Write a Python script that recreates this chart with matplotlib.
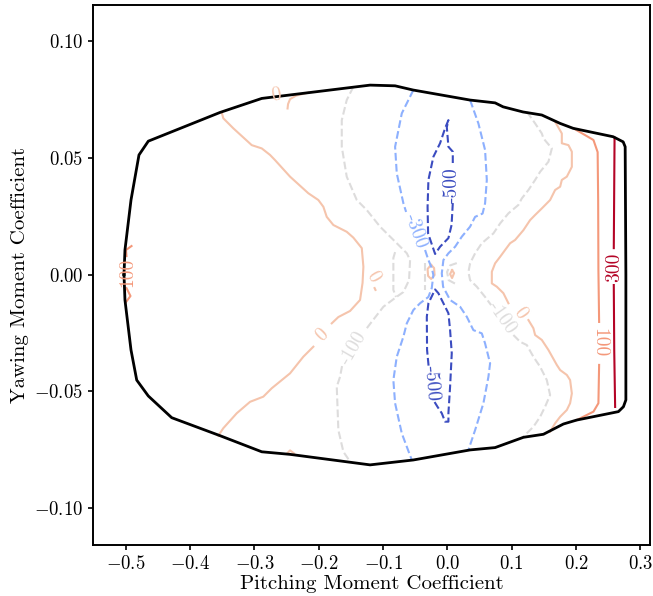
import matplotlib
matplotlib.use("Agg")
import matplotlib.pyplot as plt
from matplotlib.colors import Normalize

plt.rcParams['font.family'] = 'serif'
plt.rcParams['font.serif'] = ['cmr10']
plt.rcParams['mathtext.fontset'] = 'cm'
plt.rcParams['axes.formatter.use_mathtext'] = True

# outer envelope (pitching, yawing)
boundary = [(-0.5028, 0.0), (-0.5013, 0.0105), (-0.4919, 0.0319), (-0.4795, 0.0512),
            (-0.465, 0.0571), (-0.3535, 0.0694), (-0.2886, 0.0754), (-0.1202, 0.0811),
            (-0.0813, 0.0808), (-0.0533, 0.0790), (0.0353, 0.0747), (0.0742, 0.0735),
            (0.0866, 0.0718), (0.1177, 0.0696), (0.1468, 0.0683), (0.1753, 0.0647),
            (0.1955, 0.0626), (0.2577, 0.0590), (0.2733, 0.0568), (0.2764, 0.0547),
            (0.2775, 0.0), (0.2775, -0.0537), (0.2737, -0.0566), (0.2659, -0.0587),
            (0.2012, -0.0623), (0.1804, -0.0640), (0.1493, -0.0684), (0.1182, -0.0697),
            (0.0742, -0.0741), (0.0353, -0.0751), (-0.0529, -0.0794), (-0.1202, -0.0815),
            (-0.2446, -0.0770), (-0.2886, -0.0759), (-0.3535, -0.0690), (-0.4286, -0.0613),
            (-0.465, -0.0520), (-0.4830, -0.0452), (-0.4919, -0.0323), (-0.5013, -0.0109),
            (-0.5028, 0.0)]

# contour pieces per level
lvl_300 = [
    [(0.2599, 0.0586), (0.2588, 0.0149), (0.2587, 0.0113)],
    [(0.2587, -0.0045), (0.2594, -0.0325), (0.2608, -0.0567)],
]
lvl_100 = [
    [(0.1960, 0.0626), (0.2271, 0.0576), (0.2336, 0.0524), (0.2344, 0.0319),
     (0.2348, 0.0019), (0.2359, -0.0203)],
    [(0.2359, -0.0387), (0.2348, -0.0551), (0.2271, -0.0587), (0.2012, -0.0623)],
    [(-0.4911, 0.0122), (-0.4997, 0.0105), (-0.4989, 0.0079)],
    [(-0.4989, -0.0058), (-0.4927, -0.0092), (-0.4997, -0.0118)],
]
lvl_0 = [
    [(-0.3509, 0.0694), (-0.3484, 0.0669), (-0.3328, 0.0626), (-0.3042, 0.0554),
     (-0.2886, 0.0540), (-0.2757, 0.0512), (-0.2680, 0.0490), (-0.2446, 0.0419),
     (-0.2162, 0.0348), (-0.2006, 0.0319), (-0.1928, 0.0290), (-0.1876, 0.0247),
     (-0.1773, 0.0212), (-0.1565, 0.0183), (-0.1462, 0.0158), (-0.1331, 0.0113),
     (-0.1306, 0.0033), (-0.1319, -0.0036), (-0.1358, -0.0109), (-0.1513, -0.0156),
     (-0.1695, -0.0182), (-0.1798, -0.0209)],
    [(-0.2084, -0.0309), (-0.2240, -0.0352), (-0.2446, -0.0423), (-0.2731, -0.0487),
     (-0.2862, -0.0523), (-0.3068, -0.0545), (-0.3275, -0.0594), (-0.3484, -0.0658),
     (-0.3561, -0.0690)],
    [(-0.2162, 0.0779), (-0.2353, 0.0766), (-0.2446, 0.0751), (-0.2477, 0.0730),
     (-0.2485, 0.0711)],
    [(-0.2493, -0.0766), (-0.2446, -0.0753), (-0.2384, -0.0766)],
    [(0.1675, 0.0654), (0.1779, 0.0604), (0.1779, 0.0562), (0.1882, 0.0554),
     (0.1935, 0.0526), (0.1935, 0.0461), (0.1857, 0.0419), (0.1779, 0.0405),
     (0.1753, 0.0376), (0.1675, 0.0362), (0.1597, 0.0319), (0.1468, 0.0283),
     (0.1364, 0.0255), (0.1286, 0.0233), (0.1182, 0.0190), (0.1053, 0.0148),
     (0.0975, 0.0134), (0.0897, 0.0105), (0.0820, 0.0076), (0.0742, 0.0048),
     (0.0691, 0.0012), (0.0691, -0.0038), (0.0768, -0.0052), (0.0871, -0.0080),
     (0.0949, -0.0123)],
    [(0.1260, -0.0195), (0.1337, -0.0230), (0.1364, -0.0259), (0.1468, -0.0280),
     (0.1571, -0.0323), (0.1701, -0.0387), (0.1753, -0.0409), (0.1857, -0.0430),
     (0.1908, -0.0452), (0.1935, -0.0509), (0.1908, -0.0551), (0.1857, -0.0580),
     (0.1753, -0.0609), (0.1675, -0.0637), (0.1597, -0.0673)],
    [(-0.0253, 0.0041), (-0.0207, 0.0028), (-0.0199, -0.0002), (-0.0253, -0.0019),
     (-0.0300, -0.0006), (-0.0308, 0.0024), (-0.0253, 0.0041)],
    [(0.0073, 0.0019), (0.0104, 0.0006), (0.0073, -0.0015), (0.0042, 0.0002),
     (0.0073, 0.0019)],
    [(-0.1132, -0.0058), (-0.1118, -0.0066)],
]
lvl_m100 = [
    [(-0.1462, 0.0804), (-0.1565, 0.0747), (-0.1642, 0.0661), (-0.1642, 0.0547),
     (-0.1565, 0.0419), (-0.1409, 0.0319), (-0.1253, 0.0276), (-0.1047, 0.0205),
     (-0.0787, 0.0134), (-0.0631, 0.0091), (-0.0580, 0.0062), (-0.0596, -0.0024),
     (-0.0684, -0.0075), (-0.0787, -0.0095), (-0.0995, -0.0138), (-0.1176, -0.0202),
     (-0.1253, -0.0230)],
    [(-0.1638, -0.0392), (-0.1669, -0.0438), (-0.1720, -0.0480), (-0.1695, -0.0666),
     (-0.1617, -0.0759), (-0.1513, -0.0801)],
    [(-0.0813, 0.0096), (-0.0840, 0.0071), (-0.0840, -0.0066), (-0.0798, -0.0096)],
    [(-0.0347, 0.0049), (-0.0347, -0.0066)],
    [(0.1235, 0.0697), (0.1364, 0.0647), (0.1468, 0.0604), (0.1493, 0.0583),
     (0.1624, 0.0540), (0.1571, 0.0483), (0.1442, 0.0440), (0.1364, 0.0405),
     (0.1260, 0.0362), (0.1157, 0.0326), (0.1104, 0.0298), (0.0949, 0.0262),
     (0.0820, 0.0219), (0.0715, 0.0176), (0.0535, 0.0134), (0.0431, 0.0091),
     (0.0353, 0.0048), (0.0327, 0.0011), (0.0353, -0.0024), (0.0457, -0.0052),
     (0.0586, -0.0096), (0.0680, -0.0131)],
    [(0.1026, -0.0259), (0.1131, -0.0288), (0.1235, -0.0302), (0.1337, -0.0352),
     (0.1442, -0.0395), (0.1546, -0.0452), (0.1597, -0.0516), (0.1519, -0.0566),
     (0.1442, -0.0609), (0.1337, -0.0652), (0.1182, -0.0694)],
    [(0.0146, 0.0049), (0.0042, 0.0039), (-0.0005, 0.0011), (0.0019, -0.0024),
     (0.0120, -0.0039)],
]
lvl_m300 = [
    [(-0.0529, 0.0790), (-0.0709, 0.0690), (-0.0813, 0.0547), (-0.0787, 0.0433),
     (-0.0684, 0.0305), (-0.0642, 0.0268)],
    [(-0.0347, 0.0105), (-0.0295, 0.0062), (-0.0243, 0.0028), (-0.0218, -0.0002),
     (-0.0243, -0.0058), (-0.0295, -0.0096), (-0.0425, -0.0123), (-0.0529, -0.0152),
     (-0.0631, -0.0209), (-0.0684, -0.0266), (-0.0787, -0.0352), (-0.0840, -0.0452),
     (-0.0813, -0.0551), (-0.0709, -0.0680), (-0.0554, -0.0794)],
    [(0.0353, 0.0747), (0.0482, 0.0647), (0.0586, 0.0533), (0.0613, 0.0405),
     (0.0586, 0.0305), (0.0547, 0.0261), (0.0431, 0.0247), (0.0353, 0.0205),
     (0.0224, 0.0162), (0.0120, 0.0119), (0.0016, 0.0091), (-0.0062, 0.0062),
     (-0.0087, 0.0005), (-0.0067, -0.0052), (0.0042, -0.0109), (0.0198, -0.0138),
     (0.0302, -0.0181), (0.0404, -0.0238), (0.0535, -0.0252), (0.0586, -0.0295),
     (0.0664, -0.0380), (0.0638, -0.0438), (0.0560, -0.0551), (0.0431, -0.0666),
     (0.0327, -0.0751)],
]
lvl_m500 = [
    [(0.0084, 0.0306), (0.0065, 0.0212), (0.0016, 0.0156), (-0.0114, 0.0119),
     (-0.0191, 0.0088), (-0.0238, 0.0126), (-0.0300, 0.0176), (-0.0308, 0.0290),
     (-0.0295, 0.0405), (-0.0218, 0.0504), (-0.0114, 0.0562), (-0.0036, 0.0626),
     (0.0016, 0.0661), (-0.0009, 0.0631), (0.0016, 0.0547), (0.0084, 0.0526),
     (0.0084, 0.0464)],
    [(-0.0199, -0.0546), (-0.0152, -0.0567), (-0.0087, -0.0594), (-0.0036, -0.0630),
     (0.0016, -0.0630), (0.0016, -0.0594), (0.0042, -0.0480), (0.0068, -0.0337),
     (0.0042, -0.0238), (0.0016, -0.0166), (-0.0062, -0.0123), (-0.0140, -0.0080),
     (-0.0191, -0.0064), (-0.0295, -0.0123), (-0.0320, -0.0181), (-0.0316, -0.0323),
     (-0.0292, -0.0392)],
]

# inline labels: text, level, x, y, rotation
lab_text = ['300', '100', '100', '0', '0', '0', '0', '-100', '-100', '-300', '-500', '-500']
lab_level = [300, 100, 100, 0, 0, 0, 0, -100, -100, -300, -500, -500]
lab_x = [0.2587, 0.2359, -0.4974, -0.2656, -0.1941, -0.1156, 0.1123, -0.1467, 0.0851,
         -0.0495, 0.0065, -0.0246]
lab_y = [0.0030, -0.0293, 0.0011, 0.0768, -0.0261, -0.0009, -0.0167, -0.0315, -0.0186,
         0.0184, 0.0383, -0.0467]
lab_rot = [90, -90, 90, 10, 45, -60, -55, 60, -55, -70, 90, -85]

levels = [(300, lvl_300), (100, lvl_100), (0, lvl_0), (-100, lvl_m100),
          (-300, lvl_m300), (-500, lvl_m500)]

cmap = plt.cm.coolwarm
norm = Normalize(vmin=-500, vmax=300)

fig, ax = plt.subplots(figsize=(6.53, 5.96), dpi=100)
fig.subplots_adjust(left=0.1424, right=0.9954, bottom=0.0856, top=0.9916)

for lev, pieces in levels:
    ls = '--' if lev < 0 else '-'
    for piece in pieces:
        xs = [p[0] for p in piece]
        ys = [p[1] for p in piece]
        ax.plot(xs, ys, color=cmap(norm(lev)), linestyle=ls, lw=1.5)

for t, lev, x, y, r in zip(lab_text, lab_level, lab_x, lab_y, lab_rot):
    ax.text(x, y, t, color=cmap(norm(lev)), fontsize=14, rotation=r,
            ha='center', va='center', rotation_mode='anchor')

ax.plot([p[0] for p in boundary], [p[1] for p in boundary], color='black', lw=2)

ax.set_xlim(-0.551, 0.315)
ax.set_ylim(-0.1158, 0.1154)
ax.set_xticks([-0.5, -0.4, -0.3, -0.2, -0.1, 0.0, 0.1, 0.2, 0.3])
ax.set_yticks([-0.10, -0.05, 0.0, 0.05, 0.10])
ax.tick_params(labelsize=13.5, width=1.2)
for s in ax.spines.values():
    s.set_linewidth(1.4)
ax.set_xlabel('Pitching Moment Coefficient', fontsize=15, labelpad=2)
ax.set_ylabel('Yawing Moment Coefficient', fontsize=15, labelpad=4)

fig.savefig('out.png', dpi=100)
